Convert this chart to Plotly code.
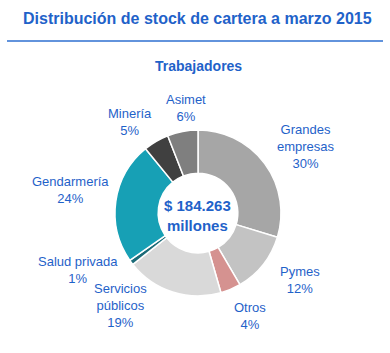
import plotly.graph_objects as go

W, H = 390, 353

categories = ["Grandes<br>empresas", "Pymes", "Otros", "Servicios<br>públicos",
              "Salud privada", "Gendarmería", "Minería", "Asimet"]
values = [30, 12, 4, 19, 1, 24, 5, 6]
colors = ["#a6a6a6", "#c3c3c3", "#d59290", "#d9d9d9",
          "#1b6b78", "#17a0b5", "#404040", "#7f7f7f"]
# label centre positions in pixels (x, y from top)
label_pos = [(306, 146), (300, 280), (250, 316), (120, 305),
             (78, 270), (70, 190), (130, 122), (186, 108)]

title = "Distribución de stock de cartera a marzo 2015"
subtitle = "Trabajadores"
center_text = "$ 184.263<br>millones"

BLUE = "#1f62c9"
FONT = "Liberation Sans, Arial, sans-serif"

cx, cy, r = 198, 213, 83

fig = go.Figure(go.Pie(
    labels=categories,
    values=values,
    marker=dict(colors=colors, line=dict(color="white", width=1.5)),
    hole=0.48,
    sort=False,
    direction="clockwise",
    rotation=0,
    textinfo="none",
    hoverinfo="label+percent",
    showlegend=False,
    domain=dict(x=[(cx - r) / W, (cx + r) / W], y=[(H - cy - r) / H, (H - cy + r) / H]),
))

ann = []
for cat, v, (x, y) in zip(categories, values, label_pos):
    ann.append(dict(x=x / W, y=1 - y / H, xref="paper", yref="paper",
                    text=f"{cat}<br>{v}%", showarrow=False,
                    font=dict(family=FONT, size=13, color=BLUE),
                    xanchor="center", yanchor="middle", align="center"))
ann.append(dict(x=(cx - 1) / W, y=1 - 215 / H, xref="paper", yref="paper",
                text=f"<b>{center_text}</b>", showarrow=False,
                font=dict(family=FONT, size=15, color=BLUE),
                xanchor="center", yanchor="middle", align="center"))
ann.append(dict(x=197 / W, y=1 - 19 / H, xref="paper", yref="paper",
                text=f"<b>{title}</b>", showarrow=False,
                font=dict(family=FONT, size=16, color=BLUE),
                xanchor="center", yanchor="middle"))
ann.append(dict(x=198 / W, y=1 - 66 / H, xref="paper", yref="paper",
                text=f"<b>{subtitle}</b>", showarrow=False,
                font=dict(family=FONT, size=14, color=BLUE),
                xanchor="center", yanchor="middle"))

fig.update_layout(
    width=W, height=H,
    margin=dict(l=0, r=0, t=0, b=0),
    paper_bgcolor="white", plot_bgcolor="white",
    annotations=ann,
    shapes=[dict(type="line", xref="paper", yref="paper",
                 x0=7 / W, x1=383 / W, y0=1 - 41 / H, y1=1 - 41 / H,
                 line=dict(color="#2e6fd0", width=1.5))],
)

fig.write_html("out.html")
